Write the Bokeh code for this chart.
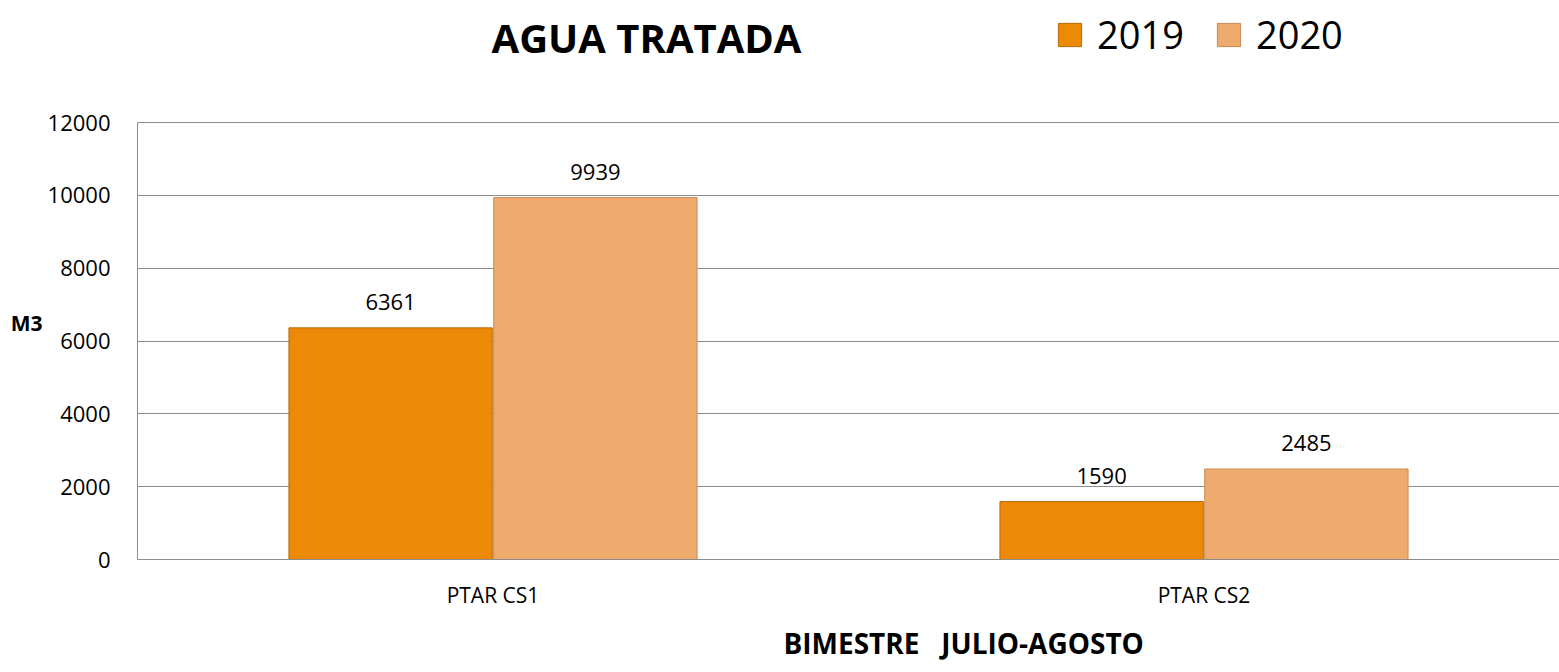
from bokeh.plotting import figure
from bokeh.models import (ColumnDataSource, FactorRange, Label, Legend, LegendItem, Range1d,
                          FixedTicker, LinearAxis, Title)
from bokeh.transform import dodge
from bokeh.core.properties import value
from bokeh.embed import file_html
from bokeh.resources import INLINE

categories = ["PTAR CS1", "PTAR CS2"]
series_names = ["2019", "2020"]
values_2019 = [6361, 1590]
values_2020 = [9939, 2485]
y_ticks = [0, 2000, 4000, 6000, 8000, 10000, 12000]
y_max = 12000

title_text = "AGUA TRATADA"
y_label_text = "M3"
x_label_text = "BIMESTRE\u00a0\u00a0\u00a0JULIO-AGOSTO"

FONT = "Open Sans"
W, H = 1559, 672
LEFT, BOTTOM = 137, 113
frame_h = H - BOTTOM
plot_h = 437  # pixel height of the 0..12000 area
y_top = y_max * frame_h / plot_h

src = ColumnDataSource(dict(cat=categories, v2019=values_2019, v2020=values_2020,
                            t2019=[str(v) for v in values_2019],
                            t2020=[str(v) for v in values_2020]))

p = figure(x_range=FactorRange(factors=categories, range_padding=0),
           y_range=Range1d(0, y_top),
           width=W, height=H, output_backend="svg", toolbar_location=None,
           min_border_left=LEFT, min_border_right=0, min_border_top=0, min_border_bottom=BOTTOM)
p.outline_line_color = None
p.background_fill_color = "white"
p.xgrid.grid_line_color = None
p.ygrid.grid_line_color = "#8C8C8C"
p.ygrid.grid_line_width = 1
p.yaxis.ticker = FixedTicker(ticks=y_ticks)
p.yaxis.bounds = (0, y_max)
for ax in (p.xaxis, p.yaxis):
    ax.axis_line_color = "#8C8C8C"
    ax.major_tick_line_color = None
    ax.minor_tick_line_color = None
    ax.major_tick_out = 0
    ax.minor_tick_out = 0
    ax.major_label_text_font = FONT
    ax.major_label_text_color = "#000000"
p.yaxis.major_label_text_font_size = "22px"
p.yaxis.major_label_standoff = 27
p.xaxis.major_label_text_font_size = "21px"
p.xaxis.major_label_standoff = 21

# second left axis carrying the "M3" unit label
m3_axis = LinearAxis(ticker=FixedTicker(ticks=[6500]), major_label_overrides={6500: y_label_text},
                     axis_line_color=None, major_tick_line_color=None, minor_tick_line_color=None,
                     major_tick_out=0, minor_tick_out=0,
                     major_label_text_font=FONT, major_label_text_font_size="21px",
                     major_label_text_font_style="bold", major_label_text_color="#000000",
                     major_label_standoff=2)
p.add_layout(m3_axis, "left")

bw = 0.286
d = 0.144
r1 = p.vbar(x=dodge("cat", -d, range=p.x_range), top="v2019", width=bw, source=src,
            fill_color="#EC8907", line_color="#B86A05", line_width=1)
r2 = p.vbar(x=dodge("cat", d, range=p.x_range), top="v2020", width=bw, source=src,
            fill_color="#EFAA6E", line_color="#C98A55", line_width=1)

p.text(x=dodge("cat", -d, range=p.x_range), y="v2019", text="t2019", source=src,
       text_align="center", text_baseline="middle", y_offset=-26,
       text_font=value(FONT), text_font_size="22px", text_color="#000000")
p.text(x=dodge("cat", d, range=p.x_range), y="v2020", text="t2020", source=src,
       text_align="center", text_baseline="middle", y_offset=-26,
       text_font=value(FONT), text_font_size="22px", text_color="#000000")

legend = Legend(items=[LegendItem(label=series_names[0], renderers=[r1]),
                       LegendItem(label=series_names[1], renderers=[r2])],
                orientation="horizontal", location=(918, 499),
                glyph_width=29, glyph_height=29, label_text_font=FONT,
                label_text_font_size="38px", label_text_color="#000000",
                spacing=30, padding=0, margin=0,
                border_line_color=None, background_fill_alpha=0, label_standoff=13)
p.add_layout(legend, "center")

p.add_layout(Label(x=509, y=frame_h - 37, x_units="screen", y_units="screen", text=title_text,
                   text_font=FONT, text_font_size="40px", text_font_style="bold",
                   text_align="center", text_baseline="middle", text_color="#000000"))

xt = Title(text=x_label_text, align="left", offset=646, text_font=FONT,
           text_font_size="28px", text_font_style="bold", text_color="#000000", standoff=21)
p.add_layout(xt, "below")

open("out.html", "w").write(file_html(p, INLINE))
